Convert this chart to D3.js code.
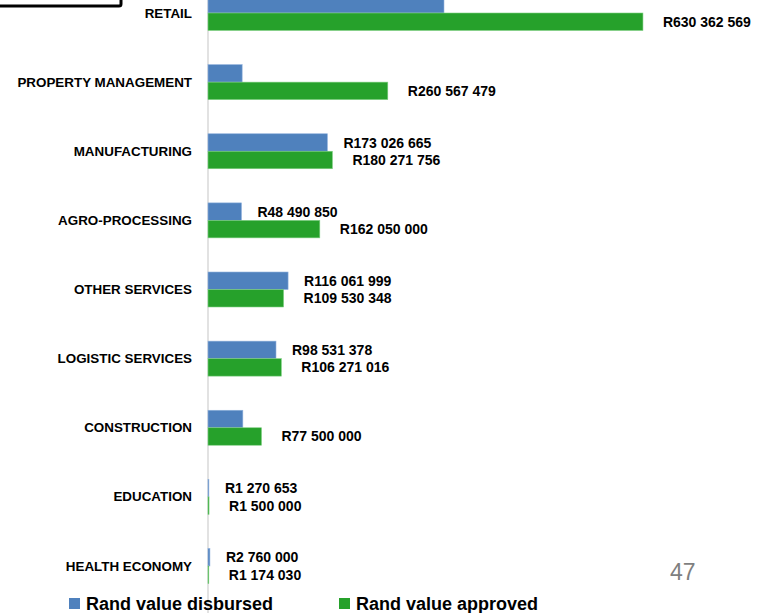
<!DOCTYPE html>
<html>
<head>
<meta charset="utf-8">
<script src="https://cdn.jsdelivr.net/npm/d3@7"></script>
<style>
  html, body { margin: 0; padding: 0; background: #fff; }
  svg { display: block; }
  text { font-family: "Liberation Sans", Arial, sans-serif; }
</style>
</head>
<body>
<svg id="chart" width="769" height="613"></svg>
<script>
const categories = ["RETAIL", "PROPERTY MANAGEMENT", "MANUFACTURING", "AGRO-PROCESSING",
  "OTHER SERVICES", "LOGISTIC SERVICES", "CONSTRUCTION", "EDUCATION", "HEALTH ECONOMY"];
const disbursed = [342000000, 49500000, 173026665, 48490850, 116061999, 98531378, 50500000, 1270653, 2760000];
const approved = [630362569, 260567479, 180271756, 162050000, 109530348, 106271016, 77500000, 1500000, 1174030];
const disbursedLabelShown = [false, false, true, true, true, true, false, true, true];
const approvedLabelShown = [true, true, true, true, true, true, true, true, true];
const seriesNames = ["Rand value disbursed", "Rand value approved"];
const seriesColors = ["#4f81bd", "#26a12b"];
const seriesStroke = ["#8fb0dc", "#7fcf82"];
const pageNumber = "47";

const svg = d3.select("#chart");

// top-left box (cut off)
svg.append("rect")
  .attr("x", -10).attr("y", -30).attr("width", 131).attr("height", 36)
  .attr("rx", 2).attr("fill", "#fff").attr("stroke", "#000").attr("stroke-width", 3);

const x = d3.scaleLinear().domain([0, 700000000]).range([208, 691]);
const step = 69.125;
const y = d3.scaleBand().domain(categories)
  .range([13 - step / 2, 566 + step / 2])
  .paddingInner(0.494).paddingOuter(0.247);
const ySub = d3.scaleBand().domain([0, 1]).range([0, y.bandwidth()]);

const fmt = v => "R" + d3.format(",")(v).replace(/,/g, " ");

// axis line
svg.append("line")
  .attr("x1", x(0)).attr("x2", x(0)).attr("y1", 0).attr("y2", 613)
  .attr("stroke", "#d9d9d9").attr("stroke-width", 1.5);

const series = [disbursed, approved];
const shown = [disbursedLabelShown, approvedLabelShown];
const labelOffset = [16, 20];

series.forEach((vals, s) => {
  const g = svg.append("g");
  g.selectAll("rect").data(categories).join("rect")
    .attr("x", x(0))
    .attr("y", (c) => y(c) + ySub(s))
    .attr("width", (c, i) => Math.max(0.6, x(vals[i]) - x(0)))
    .attr("height", ySub.bandwidth())
    .attr("fill", seriesColors[s])
    .attr("stroke", seriesStroke[s]).attr("stroke-width", 0.6);

  g.selectAll("text").data(categories.filter((c, i) => shown[s][i])).join("text")
    .attr("x", c => x(vals[categories.indexOf(c)]) + labelOffset[s])
    .attr("y", c => y(c) + ySub(s) + ySub.bandwidth() / 2)
    .attr("dominant-baseline", "central")
    .attr("font-size", 14).attr("font-weight", "bold").attr("fill", "#000")
    .text(c => fmt(vals[categories.indexOf(c)]));
});

// category labels
svg.append("g").selectAll("text").data(categories).join("text")
  .attr("x", 192)
  .attr("y", c => y(c) + y.bandwidth() / 2)
  .attr("text-anchor", "end").attr("dominant-baseline", "central")
  .attr("font-size", 13.4).attr("font-weight", "bold").attr("fill", "#000")
  .text(c => c);

// legend
const legendX = [69, 339];
const lg = svg.append("g");
seriesNames.forEach((n, i) => {
  lg.append("rect").attr("x", legendX[i]).attr("y", 598).attr("width", 11).attr("height", 11)
    .attr("fill", seriesColors[i]);
  lg.append("text").attr("x", legendX[i] + 17).attr("y", 610)
    .attr("font-size", 18).attr("font-weight", "bold").attr("fill", "#000")
    .text(n);
});

// page number
svg.append("text").attr("x", 670).attr("y", 580)
  .attr("font-size", 23).attr("fill", "#7f7f7f").text(pageNumber);
</script>
</body>
</html>
